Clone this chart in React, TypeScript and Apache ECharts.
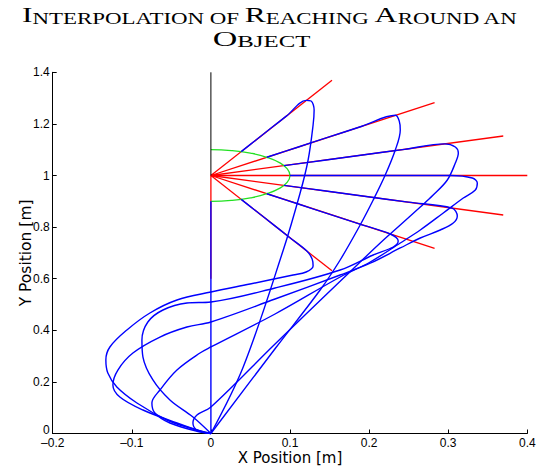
import React, { useEffect, useRef } from "react";
import * as echarts from "echarts";

// Axis ranges / ticks
const xMin = -0.2;
const xMax = 0.4;
const xStep = 0.1;
const yMin = 0;
const yMax = 1.4;
const yStep = 0.2;

// Object centre and approach rays (end points of the red lines)
const objCenter: [number, number] = [0, 1];
const rayEndX = [0.1531, 0.2828, 0.3696, 0.4, 0.3696, 0.2828, 0.1531, 0];
const rayEndY = [1.3696, 1.2828, 1.1531, 1.0, 0.8469, 0.7172, 0.6304, 0.6];

// Green half circle around the object
const objectArc: [number, number][] = [
  [0, 1.1], [0.0259, 1.0966], [0.05, 1.0866], [0.0707, 1.0707], [0.0866, 1.05],
  [0.0966, 1.0259], [0.1, 1.0], [0.0966, 0.9741], [0.0866, 0.95], [0.0707, 0.9293],
  [0.05, 0.9134], [0.0259, 0.9034], [0, 0.9],
];

// Black vertical line above the object
const blackLine: [number, number][] = [[0, 1], [0, 1.4]];

// Blue reaching trajectories
const reach1: [number, number][] = [
  [0, 0], [0.0411, 0.2597], [0.0915, 0.7112], [0.1128, 0.9322], [0.1229, 1.0601],
  [0.1292, 1.1957], [0.1305, 1.2539], [0.1267, 1.2888], [0.1205, 1.291],
  [0.0957, 1.231], [0.0765, 1.1848], [0.0574, 1.1386], [0.0383, 1.0924],
];
const reach2: [number, number][] = [
  [0, 0], [0.0818, 0.3314], [0.1381, 0.5562], [0.1634, 0.6725], [0.1887, 0.8081],
  [0.2052, 0.905], [0.2204, 1.0019], [0.2331, 1.0988], [0.2394, 1.1764],
  [0.2381, 1.2112], [0.2333, 1.2333], [0.1909, 1.1909], [0.1485, 1.1485],
  [0.1096, 1.1096], [0.0707, 1.0707],
];
const reach3: [number, number][] = [
  [0, 0], [-0.0176, 0.0136], [-0.0227, 0.0407], [-0.0176, 0.0717], [0, 0.1027],
  [0.0811, 0.3469], [0.1634, 0.59], [0.1887, 0.6647], [0.2141, 0.7384],
  [0.2394, 0.8081], [0.2647, 0.8779], [0.281, 0.9244], [0.2989, 0.9826],
  [0.309, 1.0484], [0.3128, 1.0872], [0.309, 1.1105], [0.2957, 1.1225],
  [0.2448, 1.1014], [0.194, 1.0804], [0.1432, 1.0593], [0.0924, 1.0383],
];
const reach4: [number, number][] = [
  [0, 0], [-0.0138, 0.0058], [-0.0518, 0.0407], [-0.0708, 0.0795], [-0.0746, 0.1182],
  [-0.0644, 0.1686], [-0.0429, 0.2461], [-0.0138, 0.312], [0, 0.3353],
  [0.0811, 0.4632], [0.1634, 0.6066], [0.2014, 0.6647], [0.2394, 0.7384],
  [0.2647, 0.7888], [0.2938, 0.8547], [0.3191, 0.9128], [0.3343, 0.9438],
  [0.3368, 0.9709], [0.3305, 0.9903], [0.3026, 1.0], [0.25, 1.0], [0.2, 1.0],
  [0.15, 1.0], [0.1, 1.0],
];
const reach5: [number, number][] = [
  [0, 0], [-0.0138, 0.0097], [-0.0429, 0.0407], [-0.0859, 0.0911], [-0.1151, 0.1415],
  [-0.1239, 0.188], [-0.1176, 0.2461], [-0.0986, 0.312], [-0.0644, 0.374],
  [-0.0303, 0.4128], [0, 0.4322], [0.0811, 0.5213], [0.1634, 0.6143],
  [0.2014, 0.66], [0.2394, 0.719], [0.2647, 0.7578], [0.29, 0.7888],
  [0.3064, 0.8159], [0.3115, 0.843], [0.3049, 0.8737], [0.2495, 0.8967],
  [0.194, 0.9196], [0.1432, 0.9407], [0.0924, 0.9617],
];
const reach6: [number, number][] = [
  [0, 0], [-0.0227, 0.064], [-0.0518, 0.1298], [-0.0733, 0.2074], [-0.0859, 0.2965],
  [-0.0872, 0.3624], [-0.0797, 0.4322], [-0.0606, 0.4787], [-0.0303, 0.5058],
  [0, 0.5097], [0.0811, 0.564], [0.1634, 0.6337], [0.2052, 0.6919],
  [0.2305, 0.7229], [0.2368, 0.7461], [0.2267, 0.7733], [0.1874, 0.8126],
  [0.1485, 0.8515], [0.1096, 0.8904], [0.0707, 0.9293],
];
const reach7: [number, number][] = [
  [0, 0], [-0.0265, 0.0213], [-0.0556, 0.0523], [-0.0935, 0.1182], [-0.1189, 0.1802],
  [-0.1303, 0.2345], [-0.1328, 0.2849], [-0.1277, 0.3353], [-0.1062, 0.4012],
  [-0.0771, 0.4671], [-0.0429, 0.5174], [0, 0.5484], [0.0495, 0.5795],
  [0.1039, 0.6143], [0.1204, 0.626], [0.1292, 0.6492], [0.128, 0.6764],
  [0.1216, 0.7065], [0.0995, 0.7598], [0.0785, 0.8106], [0.0574, 0.8614],
  [0.0383, 0.9076],
];
const reachDown: [number, number][] = [[0, 0], [0, 0.9]];

const trajectories = [reach1, reach2, reach3, reach4, reach5, reach6, reach7];

const titleLine1 = "{a|I}{b|NTERPOLATION OF }{a|R}{b|EACHING }{a|A}{b|ROUND AN}";
const titleLine2 = "{a|O}{b|BJECT}";
const xName = "X Position [m]";
const yName = "Y Position [m]";

export default function App() {
  const ref = useRef<HTMLDivElement>(null);

  useEffect(() => {
    const chart = echarts.init(ref.current as HTMLDivElement, null, { renderer: "svg" });

    const lineSeries = (
      name: string,
      data: [number, number][],
      color: string,
      width: number,
      smooth: number | boolean,
      z: number
    ) => ({
      type: "line",
      name,
      data,
      showSymbol: false,
      symbol: "none",
      smooth,
      silent: true,
      clip: false,
      z,
      lineStyle: { color, width },
      itemStyle: { color },
      animation: false,
    });

    const series: any[] = [];
    rayEndX.forEach((ex, i) => {
      series.push(
        lineSeries("ray" + i, [objCenter, [ex, rayEndY[i]]], "#ff0000", 1.3, false, 2)
      );
    });
    series.push(lineSeries("object", objectArc, "#22e022", 1.3, 0.5, 3));
    trajectories.forEach((t, i) => {
      series.push(lineSeries("reach" + (i + 1), t, "#0000ff", 1.4, 0.35, 4));
    });
    series.push(lineSeries("reachDown", reachDown, "#0000ff", 1.4, false, 4));
    series.push(lineSeries("vertical", blackLine, "#000000", 1, false, 5));

    const rich = {
      a: {
        fontSize: 22,
        fontFamily: "Liberation Serif",
        lineHeight: 20,
        verticalAlign: "bottom",
        fill: "#000",
        color: "#000",
      },
      b: {
        fontSize: 16,
        fontFamily: "Liberation Serif",
        lineHeight: 16,
        verticalAlign: "bottom",
        fill: "#000",
        color: "#000",
      },
    };

    const labelFont = { fontSize: 12, fontFamily: "Liberation Sans", color: "#000" };

    const option: any = {
      animation: false,
      backgroundColor: "#ffffff",
      grid: {
        left: 52.7,
        right: 10.7,
        top: 72.3,
        bottom: 32.5,
        containLabel: false,
        outerBoundsMode: "none",
      },
      xAxis: {
        type: "value",
        min: xMin,
        max: xMax,
        interval: xStep,
        name: xName,
        nameLocation: "middle",
        nameGap: 16,
        nameMoveOverlap: false,
        nameTextStyle: { fontFamily: "DejaVu Sans", fontSize: 15, lineHeight: 16, color: "#000" },
        axisLine: { show: true, onZero: false, lineStyle: { color: "#000", width: 1 } },
        axisTick: { show: true, inside: true, length: 4, lineStyle: { color: "#000" } },
        axisLabel: {
          show: true,
          margin: 3,
          ...labelFont,
          lineHeight: 12,
          showMinLabel: true,
          showMaxLabel: true,
          hideOverlap: false,
          formatter: (v: number) => {
            const r = Math.round(v * 10) / 10;
            return r < 0 ? "\u2013" + Math.abs(r) : String(r);
          },
        },
        splitLine: { show: false },
      },
      yAxis: {
        type: "value",
        min: yMin,
        max: yMax,
        interval: yStep,
        name: yName,
        nameLocation: "middle",
        nameGap: 19,
        nameMoveOverlap: false,
        nameTextStyle: { fontFamily: "DejaVu Sans", fontSize: 15.5, color: "#000" },
        axisLine: { show: true, onZero: false, lineStyle: { color: "#000", width: 1 } },
        axisTick: { show: true, inside: true, length: 4, lineStyle: { color: "#000" } },
        axisLabel: {
          show: true,
          margin: 3,
          ...labelFont,
          showMinLabel: true,
          showMaxLabel: true,
          hideOverlap: false,
          formatter: (v: number) => {
            const r = Math.round(v * 10) / 10;
            return r === 0 ? "{z|0}" : String(r);
          },
          rich: {
            z: { ...labelFont, padding: [0, 0, 7, 0] },
          },
        },
        splitLine: { show: false },
      },
      graphic: [
        {
          type: "text",
          x: 269.7,
          y: 25.9,
          scaleX: 1.43,
          silent: true,
          style: {
            text: titleLine1,
            rich,
            fill: "#000",
            align: "center",
            textAlign: "center",
            verticalAlign: "bottom",
            textVerticalAlign: "bottom",
          },
        },
        {
          type: "text",
          x: 261.5,
          y: 49.3,
          scaleX: 1.55,
          silent: true,
          style: {
            text: titleLine2,
            rich,
            fill: "#000",
            align: "center",
            textAlign: "center",
            verticalAlign: "bottom",
            textVerticalAlign: "bottom",
          },
        },
      ],
      series,
    };

    chart.setOption(option);
    return () => {
      chart.dispose();
    };
  }, []);

  return (
    <div
      ref={ref}
      style={{ position: "fixed", left: 0, top: 0, width: 538, height: 466, background: "#fff" }}
    />
  );
}
